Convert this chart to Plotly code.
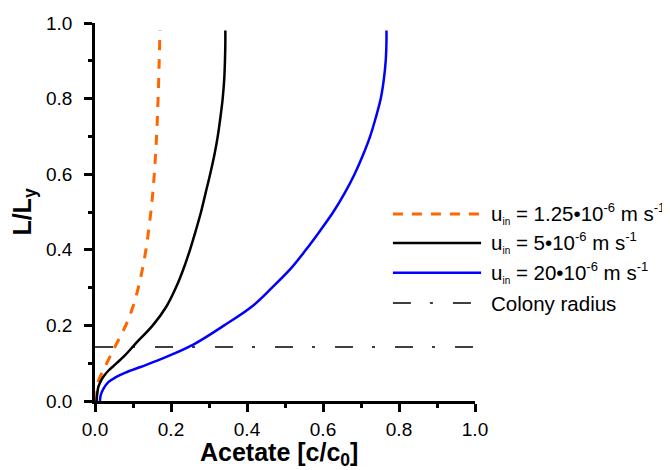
import plotly.graph_objects as go

# ---- data ----
orange_x = [0.004, 0.005, 0.008, 0.031, 0.056, 0.081, 0.100, 0.114, 0.125, 0.134, 0.141, 0.147, 0.152, 0.156, 0.162, 0.166, 0.169, 0.171]
orange_y = [0.000, 0.025, 0.050, 0.100, 0.150, 0.200, 0.250, 0.300, 0.350, 0.400, 0.450, 0.500, 0.550, 0.600, 0.700, 0.800, 0.900, 0.980]

black_x = [0.004, 0.006, 0.009, 0.015, 0.022, 0.035, 0.057, 0.080, 0.105, 0.152, 0.188, 0.213, 0.233, 0.250, 0.265, 0.279, 0.291, 0.303, 0.314, 0.323, 0.330, 0.336, 0.340, 0.342, 0.343, 0.343]
black_y = [0.000, 0.020, 0.038, 0.052, 0.064, 0.080, 0.100, 0.122, 0.150, 0.200, 0.250, 0.300, 0.350, 0.400, 0.450, 0.500, 0.550, 0.600, 0.650, 0.700, 0.750, 0.800, 0.850, 0.900, 0.950, 0.980]

blue_x = [0.013, 0.015, 0.022, 0.035, 0.055, 0.080, 0.120, 0.162, 0.200, 0.260, 0.340, 0.413, 0.466, 0.515, 0.555, 0.592, 0.627, 0.657, 0.683, 0.705, 0.724, 0.739, 0.752, 0.760, 0.765, 0.767, 0.767]
blue_y = [0.000, 0.015, 0.032, 0.050, 0.063, 0.075, 0.090, 0.106, 0.122, 0.150, 0.200, 0.250, 0.300, 0.350, 0.400, 0.450, 0.500, 0.550, 0.600, 0.650, 0.700, 0.750, 0.800, 0.850, 0.900, 0.950, 0.980]

colony_x = [0.0, 1.0]
colony_y = [0.143, 0.143]

SUB = '<sub><span style="font-size:10px">{}</span></sub>'
SUP = '<sup><span style="font-size:13px">{}</span></sup>'
legend_labels = [
    "u" + SUB.format("in") + " = 1.25\u202210" + SUP.format("-6") + " m s" + SUP.format("-1"),
    "u" + SUB.format("in") + " = 5\u202210" + SUP.format("-6") + " m s" + SUP.format("-1"),
    "u" + SUB.format("in") + " = 20\u202210" + SUP.format("-6") + " m s" + SUP.format("-1"),
    "Colony radius",
]

x_title = "<b>Acetate [c/c<sub>0</sub>]</b>"
y_title = "<b>L/L<sub>y</sub></b>"

x_ticks = [0.0, 0.2, 0.4, 0.6, 0.8, 1.0]
y_ticks = [0.0, 0.2, 0.4, 0.6, 0.8, 1.0]

ORANGE = "#ff6600"
BLACK = "#000000"
BLUE = "#0000ff"
FONT = "Liberation Sans, Arial, sans-serif"

styles = [
    dict(color=ORANGE, width=3, dash="10px,9px"),
    dict(color=BLACK, width=2.5, dash="solid"),
    dict(color=BLUE, width=2.5, dash="solid"),
    dict(color=BLACK, width=1.5, dash="18px,19px,3px,20px"),
]

fig = go.Figure()
fig.add_trace(go.Scatter(x=colony_x, y=colony_y, mode="lines", line=styles[3], showlegend=False))
fig.add_trace(go.Scatter(x=orange_x, y=orange_y, mode="lines", line=styles[0], line_shape="spline", showlegend=False))
fig.add_trace(go.Scatter(x=black_x, y=black_y, mode="lines", line=styles[1], line_shape="spline", showlegend=False))
fig.add_trace(go.Scatter(x=blue_x, y=blue_y, mode="lines", line=styles[2], line_shape="spline", showlegend=False))

# custom legend (long line samples as in the reference)
row_y = [0.495, 0.418, 0.339, 0.259]
for lab, st, yy in zip(legend_labels, styles, row_y):
    fig.add_shape(type="line", xref="paper", yref="paper", x0=0.784, x1=1.016, y0=yy, y1=yy,
                  line=st)
    fig.add_annotation(xref="paper", yref="paper", x=1.037, y=yy, text=lab, showarrow=False,
                       xanchor="left", yanchor="middle", font=dict(size=20.5, family=FONT, color="black"))

# x-axis title as an annotation so it sits just inside the bottom edge
fig.add_annotation(xref="paper", yref="paper", x=0.484, y=-0.186, text=x_title, showarrow=False,
                   xanchor="center", yanchor="bottom", borderpad=0,
                   font=dict(size=25, family=FONT, color="black"))

axis_common = dict(
    showline=True, linecolor="black", linewidth=2.5,
    ticks="outside", ticklen=8, tickwidth=2.5, tickcolor="black",
    showgrid=False, zeroline=False, tickformat=".1f",
    tickfont=dict(size=19, family=FONT, color="black"),
    minor=dict(dtick=0.1, ticks="outside", ticklen=4, tickwidth=2.5, tickcolor="black"),
    range=[0, 1], automargin=False,
)

fig.update_xaxes(**axis_common, tickvals=x_ticks, ticklabelstandoff=1)
fig.update_yaxes(**axis_common, tickvals=y_ticks, ticklabelstandoff=8,
                 title=dict(text=y_title, font=dict(size=25, family=FONT, color="black"), standoff=12))

fig.update_layout(
    width=670, height=470,
    margin=dict(l=87, r=203, t=15, b=77),
    plot_bgcolor="white", paper_bgcolor="white",
    font=dict(family=FONT, color="black"),
)

fig.write_html("out.html")
